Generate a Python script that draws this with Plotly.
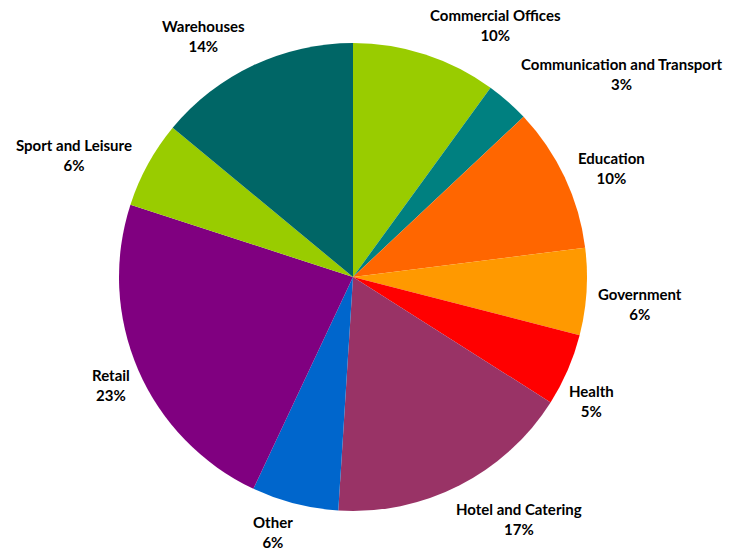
import plotly.graph_objects as go

# Share of projects by sector (%)
sectors = [
    "Commercial Offices", "Communication and Transport", "Education",
    "Government", "Health", "Hotel and Catering", "Other", "Retail",
    "Sport and Leisure", "Warehouses",
]
shares = [10, 3, 10, 6, 5, 17, 6, 23, 6, 14]
colors = [
    "#99CC00", "#008080", "#FF6600", "#FF9900", "#FF0000",
    "#993366", "#0066CC", "#800080", "#99CC00", "#006666",
]

# Label block centres in pixels (x from left, y from top)
label_px = [
    (496, 25), (622, 74), (611, 168), (640, 304), (591, 401),
    (519, 519), (273, 532), (111, 385), (74, 155), (203, 36),
]

W, H = 735, 549
cx, cy, r = 353, 277, 234  # pie centre and radius in pixels

fig = go.Figure(go.Pie(
    labels=sectors,
    values=shares,
    sort=False,
    direction="clockwise",
    rotation=0,
    marker=dict(colors=colors, line=dict(width=0)),
    textinfo="none",
    hoverinfo="label+percent",
    showlegend=False,
    domain=dict(x=[(cx - r) / W, (cx + r) / W],
                y=[(H - cy - r) / H, (H - cy + r) / H]),
))

total = sum(shares)
for name, val, (px, py) in zip(sectors, shares, label_px):
    fig.add_annotation(
        x=px / W, y=1 - py / H, xref="paper", yref="paper",
        text=f"<b>{name}<br>{val / total:.0%}</b>",
        showarrow=False, xanchor="center", yanchor="middle", align="center",
        font=dict(family="Lato", size=15, color="#000000"),
    )

fig.update_layout(
    width=W, height=H,
    margin=dict(l=0, r=0, t=0, b=0),
    paper_bgcolor="white", plot_bgcolor="white",
)

fig.write_html("out.html")
